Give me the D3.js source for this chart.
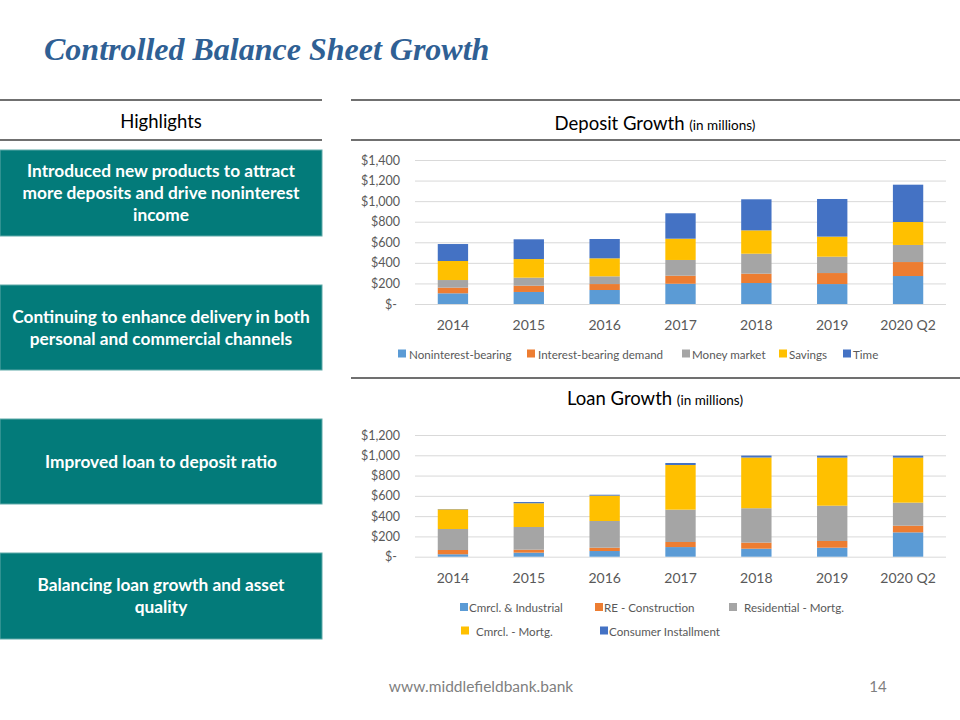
<!DOCTYPE html>
<html><head><meta charset="utf-8">
<script src="https://cdn.jsdelivr.net/npm/d3@7/dist/d3.min.js"></script>
<style>
html,body{margin:0;padding:0;background:#fff;}
svg{display:block;}
</style></head>
<body>
<svg id="chart" width="960" height="720"></svg>
<script>
const categories = ["2014","2015","2016","2017","2018","2019","2020 Q2"];

const depositSeries = ["Noninterest-bearing","Interest-bearing demand","Money market","Savings","Time"];
const noninterestBearing   = [104, 117, 136, 197, 204, 194, 272];
const interestBearingDemand= [ 55,  61,  58,  78,  91, 107, 136];
const moneyMarket          = [ 74,  78,  75, 153, 194, 159, 166];
const savings              = [185, 181, 175, 207, 227, 195, 223];
const timeDeposits         = [165, 192, 188, 247, 302, 366, 363];
const depositTicks = [0,200,400,600,800,1000,1200,1400];

const loanSeries = ["Cmrcl. & Industrial","RE - Construction","Residential - Mortg.","Cmrcl. - Mortg.","Consumer Installment"];
const cmrclIndustrial     = [ 24,  40,  56,  95,  79,  89, 240];
const reConstruction      = [ 42,  29,  33,  50,  60,  66,  66];
const residentialMortg    = [207, 224, 263, 319, 339, 348, 227];
const cmrclMortg          = [194, 234, 250, 440, 500, 474, 444];
const consumerInstallment = [  3,  12,   9,  20,  19,  19,  19];
const loanTicks = [0,200,400,600,800,1000,1200];

const highlights = [
  ["Introduced new products to attract","more deposits and drive noninterest","income"],
  ["Continuing to enhance delivery in both","personal and commercial channels"],
  ["Improved loan to deposit ratio"],
  ["Balancing loan growth and asset","quality"]
];

const colors = ["#5B9BD5","#ED7D31","#A5A5A5","#FFC000","#4472C4"];
const FONT = "Lato, 'Open Sans', sans-serif";

const svg = d3.select("#chart");

// Title
svg.append("text").attr("x",44).attr("y",60)
  .attr("font-family","'Liberation Serif', 'DejaVu Serif', serif")
  .attr("font-weight","bold").attr("font-style","italic")
  .attr("font-size",32).attr("fill","#2F6094")
  .text("Controlled Balance Sheet Growth");

// header lines
const lineColor = "#404040";
[[0,322,100],[0,322,140],[351,960,100],[351,960,140],[351,960,378]].forEach(l=>{
  svg.append("line").attr("x1",l[0]).attr("x2",l[1]).attr("y1",l[2]).attr("y2",l[2])
    .attr("stroke",lineColor).attr("stroke-width",1.3);
});

svg.append("text").attr("x",161).attr("y",128).attr("text-anchor","middle")
  .attr("font-family",FONT).attr("font-size",18.5).attr("fill","#000").text("Highlights");

function header(y, main){
  const t = svg.append("text").attr("x",655).attr("y",y).attr("text-anchor","middle")
    .attr("font-family",FONT).attr("fill","#000");
  t.append("tspan").attr("font-size",18.5).text(main+" ");
  t.append("tspan").attr("font-size",13.5).text("(in millions)");
}
header(130,"Deposit Growth");
header(405,"Loan Growth");

// Highlight boxes
const boxes = [[150,236],[285,370],[419,504],[553,639]];
boxes.forEach((b,i)=>{
  svg.append("rect").attr("x",0).attr("y",b[0]).attr("width",322).attr("height",b[1]-b[0])
    .attr("fill","#037B7A").attr("stroke","#5FA9A8").attr("stroke-width",1);
  const lines = highlights[i];
  const cy = (b[0]+b[1])/2;
  const lh = 22;
  lines.forEach((s,j)=>{
    svg.append("text").attr("x",161).attr("y",cy + (j-(lines.length-1)/2)*lh + 6)
      .attr("text-anchor","middle").attr("font-family",FONT).attr("font-weight","bold")
      .attr("font-size",17.3).attr("fill","#fff").text(s);
  });
});

function fmt(v){ return v===0 ? "$-" : "$"+d3.format(",")(v); }

function stackedChart(opts){
  const {yTop,yBottom,max,ticks,seriesNames,data,legendRows} = opts;
  const x = d3.scaleBand().domain(categories).range([415,946]).paddingInner(0.6).paddingOuter(0.3);
  const y = d3.scaleLinear().domain([0,max]).range([yBottom,yTop]);
  const g = svg.append("g");

  // grid + y axis
  const ax = g.append("g").attr("transform","translate(415,0)")
    .call(d3.axisLeft(y).tickValues(ticks).tickFormat(fmt).tickSize(-531).tickPadding(15));
  ax.select(".domain").remove();
  ax.selectAll(".tick line").attr("stroke","#D9D9D9").attr("stroke-width",1);
  ax.selectAll(".tick text").attr("font-family",FONT).attr("font-size",12.5).attr("fill","#595959")
    .attr("dx",d=>d===0?-3:0);

  const rows = categories.map((c,i)=>{
    const o = {cat:c};
    seriesNames.forEach((s,k)=>o[s]=data[k][i]);
    return o;
  });
  const stack = d3.stack().keys(seriesNames)(rows);
  g.selectAll("g.series").data(stack).join("g").attr("fill",(d,i)=>colors[i])
    .selectAll("rect").data(d=>d).join("rect")
    .attr("x",d=>x(d.data.cat)).attr("width",x.bandwidth())
    .attr("y",d=>y(d[1])).attr("height",d=>y(d[0])-y(d[1]));

  // x labels
  const xa = g.append("g").attr("transform",`translate(0,${yBottom})`)
    .call(d3.axisBottom(x).tickSize(0).tickPadding(16));
  xa.select(".domain").remove();
  xa.selectAll(".tick text").attr("font-family",FONT).attr("font-size",14).attr("fill","#595959");

  // legend
  legendRows.forEach(it=>{
    g.append("rect").attr("x",it.sx).attr("y",it.y-4.5).attr("width",8).attr("height",8).attr("fill",colors[it.i]);
    g.append("text").attr("x",it.tx).attr("y",it.y+4.5).attr("font-family",FONT).attr("font-size",11.6)
      .attr("fill","#595959").text(seriesNames[it.i]);
  });
}

stackedChart({
  yTop:160, yBottom:304, max:1400, ticks:depositTicks, seriesNames:depositSeries,
  data:[noninterestBearing,interestBearingDemand,moneyMarket,savings,timeDeposits],
  legendRows:[
    {i:0,sx:398,tx:409,y:354},{i:1,sx:527,tx:538,y:354},{i:2,sx:682,tx:692,y:354},
    {i:3,sx:779,tx:789,y:354},{i:4,sx:843,tx:853,y:354}
  ]
});

stackedChart({
  yTop:435, yBottom:556.7, max:1200, ticks:loanTicks, seriesNames:loanSeries,
  data:[cmrclIndustrial,reConstruction,residentialMortg,cmrclMortg,consumerInstallment],
  legendRows:[
    {i:0,sx:460,tx:469,y:607.5},{i:1,sx:595,tx:604,y:607.5},{i:2,sx:729,tx:744,y:607.5},
    {i:3,sx:461,tx:476,y:631},{i:4,sx:600,tx:609,y:631}
  ]
});

// footer
svg.append("text").attr("x",481).attr("y",692).attr("text-anchor","middle")
  .attr("font-family",FONT).attr("font-size",15.5).attr("fill","#7F7F7F").text("www.middlefieldbank.bank");
svg.append("text").attr("x",878).attr("y",692).attr("text-anchor","middle")
  .attr("font-family",FONT).attr("font-size",15).attr("fill","#7F7F7F").text("14");
</script>
</body></html>
